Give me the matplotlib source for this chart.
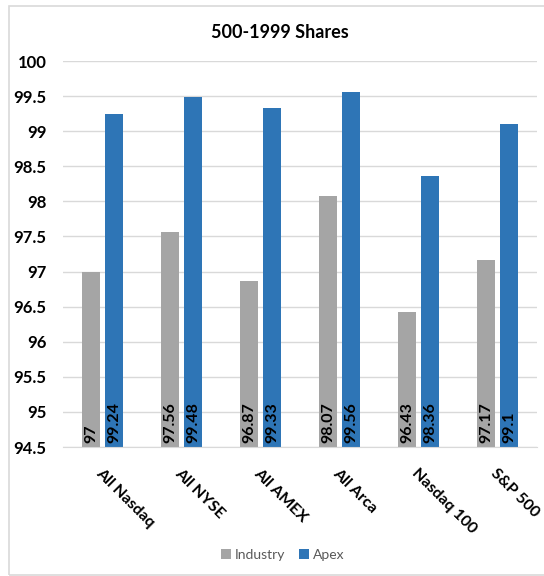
import matplotlib.pyplot as plt
import numpy as np
from matplotlib.patches import Rectangle

categories = ["All Nasdaq", "All NYSE", "All AMEX", "All Arca", "Nasdaq 100", "S&P 500"]
industry = [97, 97.56, 96.87, 98.07, 96.43, 97.17]
apex = [99.24, 99.48, 99.33, 99.56, 98.36, 99.1]
industry_labels = ["97", "97.56", "96.87", "98.07", "96.43", "97.17"]
apex_labels = ["99.24", "99.48", "99.33", "99.56", "98.36", "99.1"]

plt.rcParams['font.family'] = ['Lato', 'DejaVu Sans']

fig = plt.figure(figsize=(5.44, 5.76), dpi=100)
ax = fig.add_axes([63 / 544, 1 - 447 / 576, 474 / 544, 386 / 576])

# cadre gris autour du graphique
fig.patches.append(Rectangle((9 / 544, 1 - 575 / 576), 1.0, 569 / 576, transform=fig.transFigure,
                             fill=False, edgecolor='#D9D9D9', linewidth=1.2))

x = np.arange(len(categories))
w = 0.22
off = 0.145
base = 94.5
ax.bar(x - off, np.array(industry) - base, w, bottom=base, color='#A5A5A5', label='Industry')
ax.bar(x + off, np.array(apex) - base, w, bottom=base, color='#2E75B6', label='Apex')

for xi, lab in zip(x - off, industry_labels):
    ax.text(xi, base + 0.05, lab, rotation=90, ha='center', va='bottom', fontsize=11.5, fontweight='bold')
for xi, lab in zip(x + off, apex_labels):
    ax.text(xi, base + 0.05, lab, rotation=90, ha='center', va='bottom', fontsize=11.5, fontweight='bold')

ax.set_xlim(-0.5, len(categories) - 0.5)
ax.set_ylim(94.5, 100)
ax.set_yticks(np.arange(94.5, 100.01, 0.5))
ax.set_yticklabels([f"{v:g}" for v in np.arange(94.5, 100.01, 0.5)], fontsize=12, fontweight='bold')
ax.yaxis.grid(True, color='#D9D9D9', linewidth=1)
ax.set_axisbelow(True)
for s in ['top', 'right', 'left']:
    ax.spines[s].set_visible(False)
ax.spines['bottom'].set_color('#D9D9D9')
ax.tick_params(axis='both', length=0)
ax.tick_params(axis='y', pad=12)

ax.set_xticks(x)
ax.set_xticklabels(categories, rotation=-45, ha='left', rotation_mode='anchor', fontsize=11.5, fontweight='bold')
ax.tick_params(axis='x', pad=14)

fig.text(280 / 544, 1 - 32 / 576, "500-1999 Shares", ha='center', va='center', fontsize=13, fontweight='bold')

leg = fig.legend(loc='center', bbox_to_anchor=(283 / 544, 1 - 555 / 576), ncol=2, frameon=False,
                 fontsize=10, handlelength=0.7, handleheight=0.7, handletextpad=0.3, columnspacing=1.0)
for t in leg.get_texts():
    t.set_color('#595959')

fig.savefig('out.png', dpi=100)
